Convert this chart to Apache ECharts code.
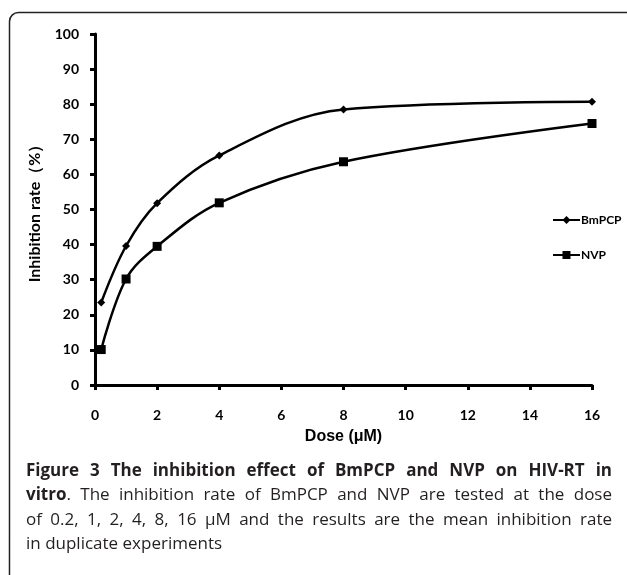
<!DOCTYPE html>
<html><head><meta charset="utf-8">
<script src="https://cdn.jsdelivr.net/npm/echarts@6/dist/echarts.min.js"></script>
<style>html,body{margin:0;padding:0;background:#fff}#c{width:627px;height:575px}</style>
</head><body><div id="c"></div>
<script>
// ---- data ----
const doses = [0.2, 1, 2, 4, 8, 16];
const bmpcp = [23.5, 39.6, 51.8, 65.4, 78.5, 80.7];
const nvp = [10.1, 30.2, 39.5, 51.9, 63.6, 74.5];
const seriesNames = ['BmPCP', 'NVP'];
const xAxisTitle = 'Dose (μM)';
const yAxisTitle = 'Inhibition rate（%）';
// caption: each line = list of [text, bold]
const captionLines = [
  {segs: [['Figure 3 The inhibition effect of BmPCP and NVP on HIV-RT in', true]], justify: true},
  {segs: [['vitro', true], ['. The inhibition rate of BmPCP and NVP are tested at the dose', false]], justify: true},
  {segs: [['of 0.2, 1, 2, 4, 8, 16 μM and the results are the mean inhibition rate', false]], justify: true},
  {segs: [['in duplicate experiments', false]], justify: false}
];

// ---- caption layout ----
const capFont = '"Open Sans", "Noto Sans", sans-serif';
const capSize = 17;
const capLeft = 26, capRight = 612, capTop = 471, capStep = 24.5;
const mctx = document.createElement('canvas').getContext('2d');
function fontStr(b) { return (b ? 'bold ' : '') + capSize + 'px ' + capFont; }
function rawW(t, b) { mctx.font = fontStr(b); return mctx.measureText(t).width; }
function parseWords(line) {
  const words = []; let cur = [];
  line.segs.forEach(([text, b]) => {
    text.split(' ').forEach((p, i) => {
      if (i > 0) { if (cur.length) words.push(cur); cur = []; }
      if (p) cur.push([p, b]);
    });
  });
  if (cur.length) words.push(cur);
  return words;
}
// horizontal condensing so that the widest justified line fits with normal spaces
let maxNat = 0;
captionLines.forEach(line => {
  if (!line.justify) return;
  const ws = parseWords(line);
  const nat = ws.reduce((s, w) => s + w.reduce((a, [t, b]) => a + rawW(t, b), 0), 0) + (ws.length - 1) * rawW(' ', false);
  maxNat = Math.max(maxNat, nat);
});
const capScale = Math.min(1, (capRight - capLeft) / maxNat);
function tw(t, b) { return rawW(t, b) * capScale; }
const graphics = [];
graphics.push({
  type: 'rect', z: -1, silent: true,
  shape: {x: 9.5, y: 12.5, width: 660, height: 620, r: 9},
  style: {fill: 'none', stroke: '#222', lineWidth: 1.5}
});
captionLines.forEach((line, li) => {
  const words = parseWords(line);
  const widths = words.map(w => w.reduce((s, [t, b]) => s + tw(t, b), 0));
  const total = widths.reduce((a, b) => a + b, 0);
  const gap = line.justify && words.length > 1 ? (capRight - capLeft - total) / (words.length - 1) : tw(' ', false);
  let x = capLeft;
  const y = capTop + li * capStep;
  words.forEach((w) => {
    w.forEach(([t, b]) => {
      graphics.push({
        type: 'text', silent: true, x: x, y: y, scaleX: capScale,
        style: {text: t, fontSize: capSize, fontFamily: capFont, fontWeight: b ? 'bold' : 'normal',
                fill: '#231f20', verticalAlign: 'middle', align: 'left'}
      });
      x += tw(t, b);
    });
    x += gap;
  });
});

const chart = echarts.init(document.getElementById('c'), null, {renderer: 'canvas'});
const axisFont = {fontFamily: 'Lato, "Open Sans", sans-serif', fontWeight: 'bold', color: '#000'};
chart.setOption({
  animation: false,
  backgroundColor: '#fff',
  graphic: graphics,
  grid: {left: 95, right: 35, top: 34, bottom: 190},
  legend: {
    orient: 'vertical', left: 547, top: 209, itemWidth: 27, itemHeight: 10, itemGap: 23,
    data: seriesNames,
    textStyle: Object.assign({fontSize: 12, padding: [0, 0, 0, -4]}, axisFont)
  },
  xAxis: {
    type: 'value', min: 0, max: 16, interval: 2,
    name: xAxisTitle, nameLocation: 'middle', nameGap: 44,
    nameTextStyle: {fontFamily: '"Liberation Sans", Arial, sans-serif', fontWeight: 'bold', fontSize: 16, color: '#000'},
    axisLine: {show: true, lineStyle: {color: '#000', width: 3}},
    axisTick: {show: true, length: 5, lineStyle: {color: '#000', width: 3}},
    axisLabel: Object.assign({fontSize: 14, margin: 23}, axisFont),
    splitLine: {show: false}
  },
  yAxis: {
    type: 'value', min: 0, max: 100, interval: 10,
    name: yAxisTitle, nameLocation: 'middle', nameGap: 52,
    nameTextStyle: Object.assign({fontSize: 16}, axisFont),
    axisLine: {show: true, lineStyle: {color: '#000', width: 3}},
    axisTick: {show: true, length: 5, lineStyle: {color: '#000', width: 3}},
    axisLabel: Object.assign({fontSize: 14, margin: 16}, axisFont),
    splitLine: {show: false}
  },
  series: [
    {name: seriesNames[0], type: 'line', smooth: 0.35, symbol: 'diamond', symbolSize: 8,
     data: doses.map((d, i) => [d, bmpcp[i]]),
     itemStyle: {color: '#000'}, lineStyle: {color: '#000', width: 2.5}},
    {name: seriesNames[1], type: 'line', smooth: 0.35, symbol: 'rect', symbolSize: 9,
     data: doses.map((d, i) => [d, nvp[i]]),
     itemStyle: {color: '#000'}, lineStyle: {color: '#000', width: 2.5}}
  ]
});
</script></body></html>
